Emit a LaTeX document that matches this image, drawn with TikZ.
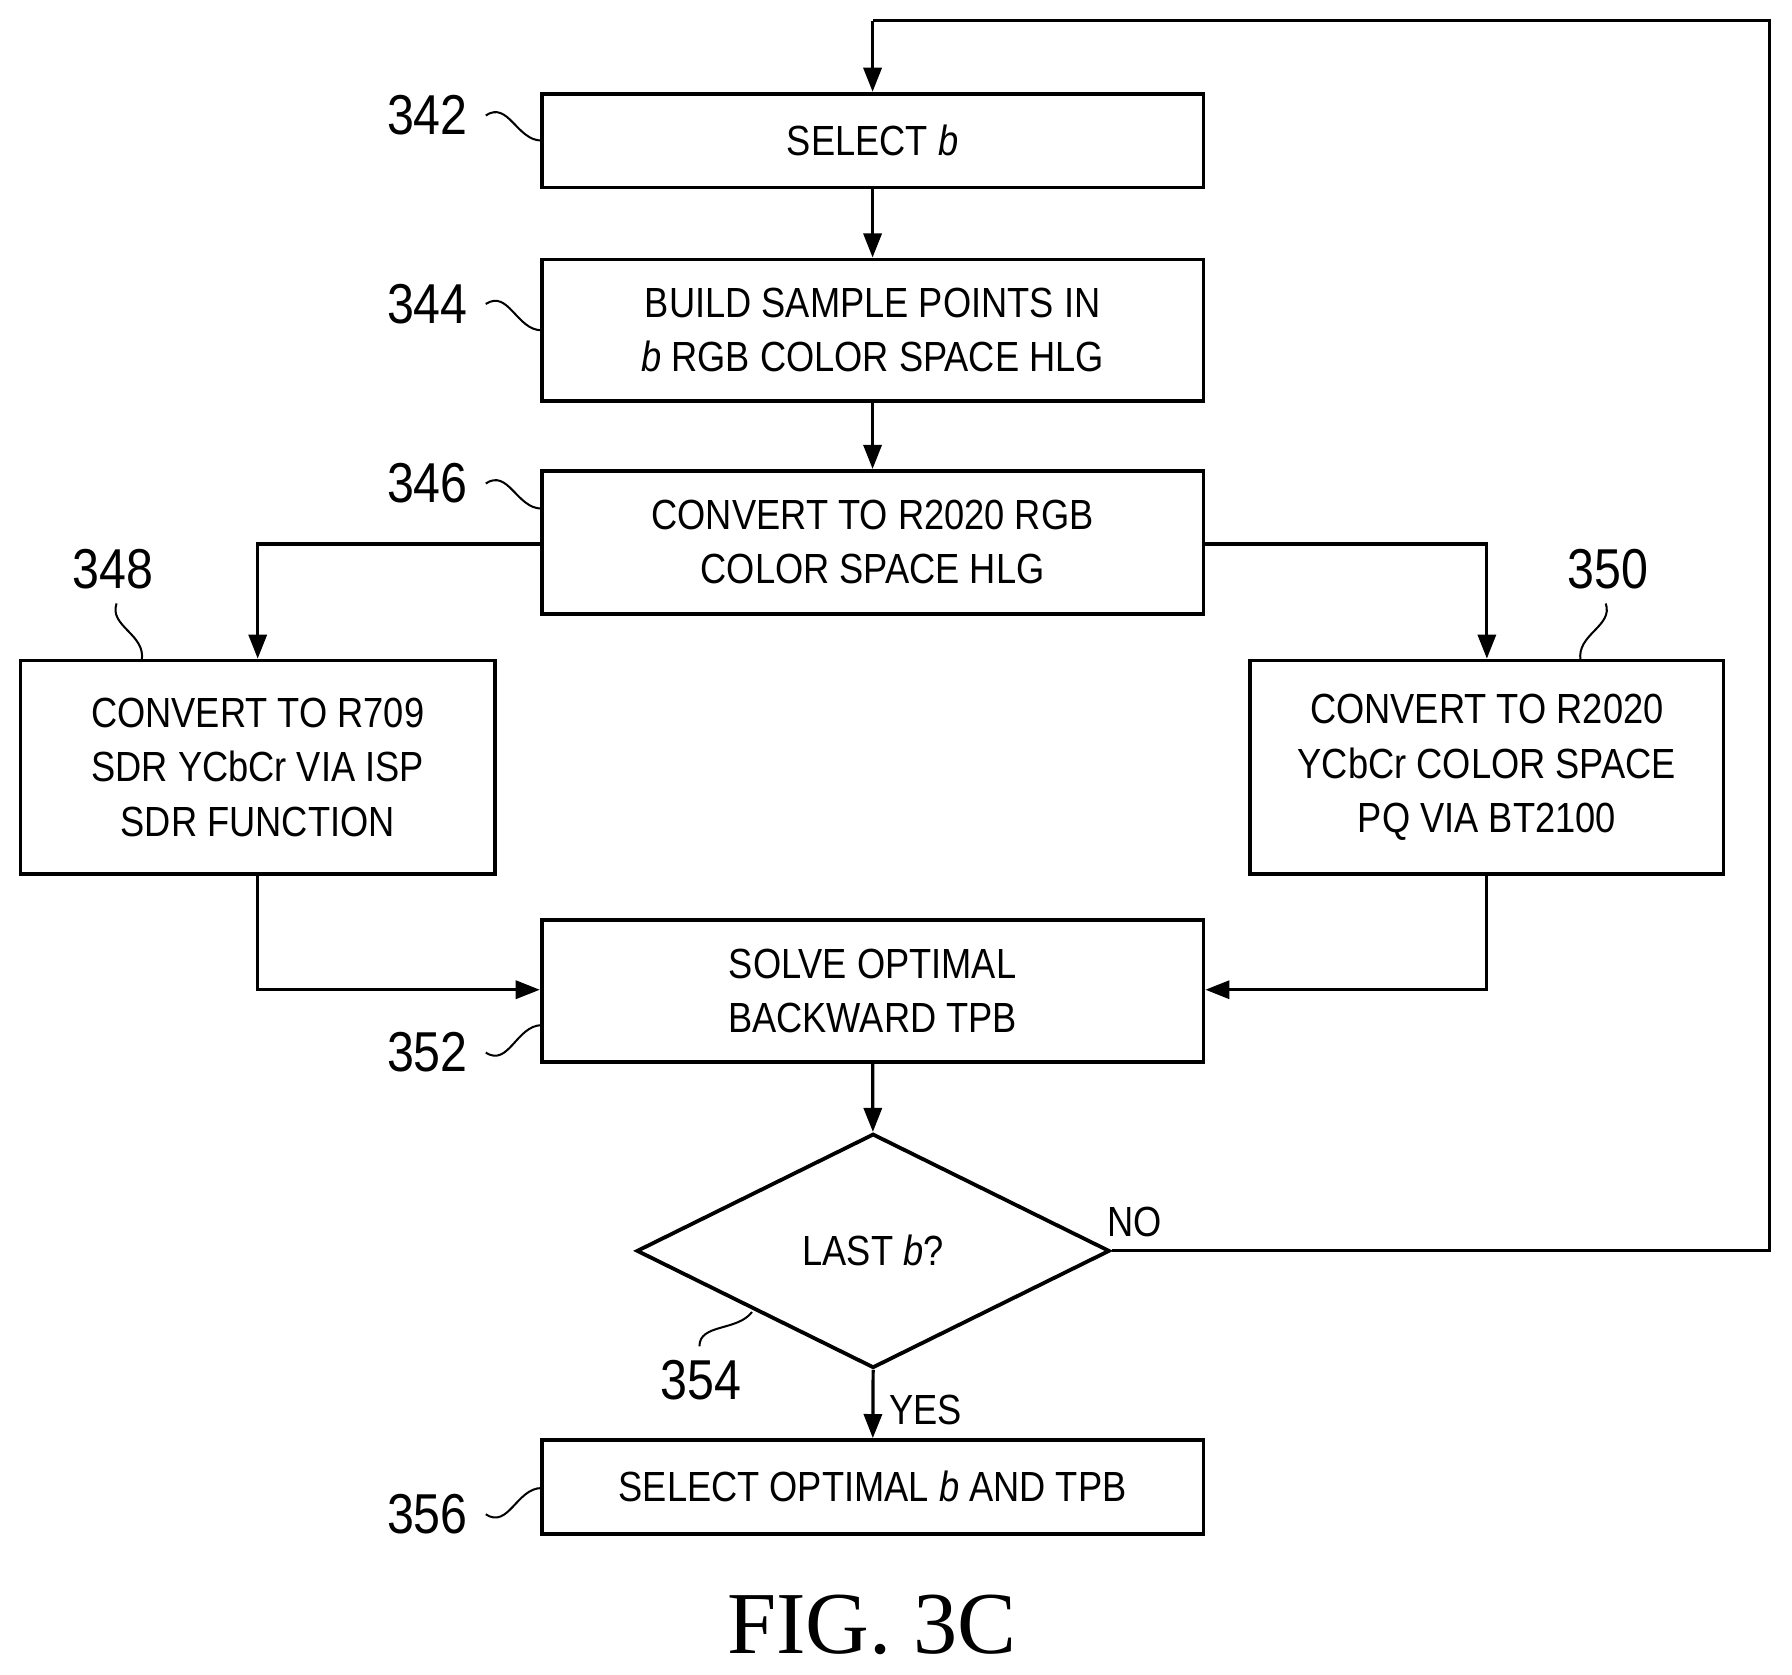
\documentclass[tikz,border=0pt]{standalone}
\usepackage{fontspec}
\setmainfont{Liberation Sans}[FakeStretch=0.86]
\newfontfamily\figfont{Liberation Serif}
\usetikzlibrary{shapes.geometric,arrows.meta}
\begin{document}
\begin{tikzpicture}[x=0.02cm,y=-0.02cm,
  box/.style={draw,line width=1.9pt,minimum height=#1*0.02cm,align=center,font=\fontsize{21}{27}\selectfont,inner sep=0},
  lbl/.style={font=\fontsize{28}{30}\selectfont},
  arr/.style={line width=1.6pt,-{Triangle[length=12pt,width=9pt]}},
  ln/.style={line width=1.6pt},
  sq/.style={line width=1pt}]
\useasboundingbox (0,0) rectangle (1568,1465);
\node[box=82,minimum width=579*0.02cm] (b342) at (763.5,123) {SELECT \textit{b}};
\node[box=124,minimum width=579*0.02cm] (b344) at (763.5,289) {BUILD SAMPLE POINTS IN\\\textit{b} RGB COLOR SPACE HLG};
\node[box=125,minimum width=579*0.02cm] (b346) at (763.5,474.5) {CONVERT TO R2020 RGB\\COLOR SPACE HLG};
\node[box=187,minimum width=415*0.02cm] (b348) at (225.5,671.5) {CONVERT TO R709\\SDR YCbCr VIA ISP\\SDR FUNCTION};
\node[box=187,minimum width=414*0.02cm] (b350) at (1301,671.5) {CONVERT TO R2020\\YCbCr COLOR SPACE\\PQ VIA BT2100};
\node[box=124,minimum width=579*0.02cm] (b352) at (763.5,867) {SOLVE OPTIMAL\\BACKWARD TPB};
\node[draw,line width=1.9pt,diamond,aspect=2.02,minimum width=414*0.02cm,minimum height=205*0.02cm,inner sep=0,font=\fontsize{21}{27}\selectfont] (d354) at (764,1094.5) {LAST \textit{b}?};
\node[box=82,minimum width=579*0.02cm] (b356) at (763.5,1301) {SELECT OPTIMAL \textit{b} AND TPB};
\coordinate (c1) at (1548,1094.5);
\coordinate (c2) at (1548,18);
\coordinate (c3) at (763.5,18);
\draw[arr] (b342) -- (b344);
\draw[arr] (b344) -- (b346);
\draw[arr] (b346.west |- 0,476) -| (b348.north);
\draw[arr] (b346.east |- 0,476) -| (b350.north);
\draw[arr] (b348.south) |- (b352.west |- 0,866);
\draw[arr] (b350.south) |- (b352.east |- 0,866);
\draw[arr] (b352) -- (d354);
\draw[arr] (d354.south) -- node[right,font=\fontsize{21}{27}\selectfont,xshift=4pt,yshift=-3pt]{YES} (b356);
\draw[ln] (d354.east) -- (c1) -- (c2) -- (c3);
\draw[arr] (c3) -- (b342.north);
\node[font=\fontsize{21}{27}\selectfont] (no) at (993,1069) {NO};
\node[lbl] (l342) at (374,101) {342};
\node[lbl] (l344) at (374,266) {344};
\node[lbl] (l346) at (374,423) {346};
\node[lbl] (l348) at (99,498) {348};
\node[lbl] (l350) at (1407,498) {350};
\node[lbl] (l352) at (374,921) {352};
\node[lbl] (l354) at (613,1208) {354};
\node[lbl] (l356) at (374,1325) {356};
\coordinate (t342) at (474,123);
\coordinate (t344) at (474,289);
\coordinate (t346) at (474,445);
\coordinate (t348) at (124,578);
\coordinate (t350) at (1383,578);
\coordinate (t352) at (474,897);
\coordinate (t354) at (658,1148);
\coordinate (t356) at (474,1302);
\draw[sq] (425,101) .. controls (445,88) and (452,123) .. (t342);
\draw[sq] (425,266) .. controls (445,253) and (452,289) .. (t344);
\draw[sq] (425,423) .. controls (445,410) and (452,445) .. (t346);
\draw[sq] (102,528) .. controls (95,548) and (128,555) .. (t348);
\draw[sq] (1405,528) .. controls (1412,548) and (1379,555) .. (t350);
\draw[sq] (425,921) .. controls (445,934) and (452,897) .. (t352);
\draw[sq] (612,1178) .. controls (612,1158) and (645,1165) .. (t354);
\draw[sq] (425,1325) .. controls (445,1338) and (452,1302) .. (t356);
\node[font=\figfont\fontsize{44}{48}\selectfont] (fig) at (763,1422) {FIG. 3C};
\end{tikzpicture}
\end{document}
